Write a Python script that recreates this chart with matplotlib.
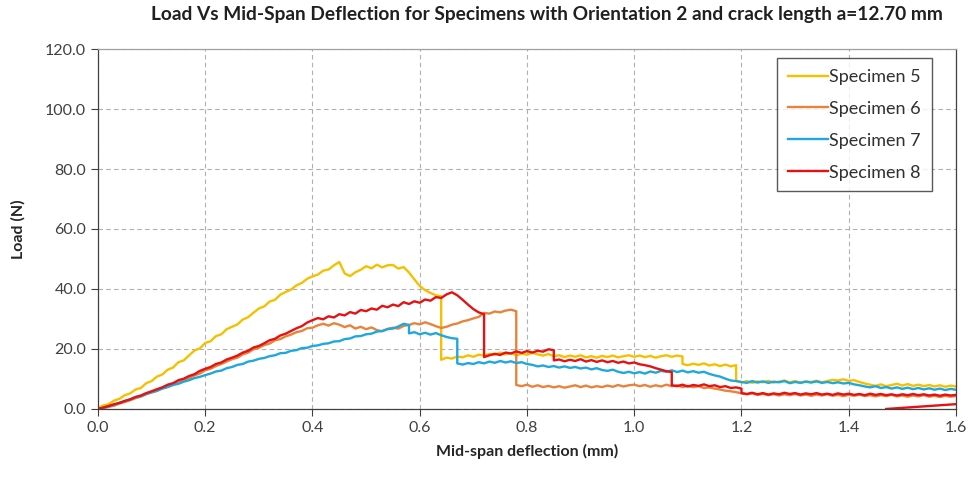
import matplotlib
matplotlib.use("Agg")
import matplotlib.pyplot as plt

plt.rcParams['font.family'] = ['Lato', 'DejaVu Sans']

# Mid-span load readings (N), sampled every 0.01 mm of deflection.
# A tuple marks a sudden load drop at that deflection: (before, after).
deflection_step = 0.01

specimen_5 = [
    0.3, 1.2, 1.6, 2.8, 3.4, 4.6, 5.2, 6.5, 7.0, 8.6,
    9.3, 10.8, 11.5, 13.1, 13.8, 15.6, 16.2, 17.9, 19.5, 20.2,
    22.0, 22.6, 24.3, 24.9, 26.6, 27.4, 28.2, 29.8, 30.6, 32.1,
    33.5, 34.2, 35.8, 36.4, 38.1, 39.0, 39.8, 41.2, 42.0, 43.4,
    44.2, 44.8, 46.1, 46.5, 47.9, 49.0, 45.2, 44.3, 45.6, 46.4,
    47.6, 46.9, 48.1, 47.2, 47.9, 48.0, 46.8, 47.3, 45.5, 43.2,
    41.0, 39.6, 38.7, 37.9, (37.6, 16.4), 17.1, 16.8, 17.5, 17.2, 17.9,
    17.4, 18.1, 17.8, 18.4, 18.0, 18.8, 18.2, 18.6, 17.9, 18.4,
    18.1, 18.7, 18.2, 17.8, 18.3, 17.6, 17.9, 17.3, 17.8, 17.4,
    17.9, 17.2, 17.6, 17.1, 17.7, 17.3, 17.8, 17.2, 17.6, 17.9,
    17.4, 17.8, 17.3, 17.7, 17.1, 17.6, 17.9, 17.4, 17.8, (17.5, 15.0),
    14.6, 15.1, 14.7, 15.2, 14.5, 14.9, 14.3, 14.8, 14.2, (14.6, 9.4),
    8.8, 9.3, 8.7, 9.2, 8.9, 9.4, 8.8, 9.1, 9.5, 8.9,
    9.3, 8.8, 9.2, 9.0, 9.4, 8.9, 9.3, 9.7, 9.5, 9.9,
    9.4, 9.6, 9.0, 8.5, 8.1, 7.7, 8.2, 7.6, 8.0, 8.4,
    7.8, 8.3, 7.7, 8.1, 7.6, 8.0, 7.5, 7.9, 7.4, 7.8,
    7.5,
]

specimen_6 = [
    0.0, 0.3, 0.7, 1.1, 1.8, 2.3, 2.9, 3.6, 4.1, 4.9,
    5.5, 6.0, 6.9, 7.4, 8.3, 8.8, 9.7, 10.3, 11.2, 11.8,
    12.9, 13.4, 14.3, 15.0, 15.8, 16.6, 17.1, 18.2, 18.8, 19.9,
    20.4, 21.3, 21.8, 22.9, 23.3, 24.2, 24.8, 25.6, 26.0, 26.9,
    27.1, 27.9, 28.4, 27.8, 28.6, 28.1, 27.3, 27.9, 26.8, 27.4,
    26.6, 27.2, 26.3, 25.9, 26.7, 27.1, 26.8, 27.7, 28.0, 28.6,
    28.2, 28.9, 28.3, 27.6, 27.0, 27.4, 28.1, 28.5, 29.2, 29.6,
    30.2, 30.7, 32.0, 31.8, 32.5, 32.2, 32.8, 33.1, (32.6, 8.0), 7.6,
    8.1, 7.4, 7.9, 7.3, 7.7, 7.2, 7.6, 7.1, 7.5, 7.9,
    7.3, 7.8, 7.2, 7.6, 7.3, 7.8, 7.4, 8.0, 7.5, 7.9,
    8.1, 7.6, 8.0, 7.4, 7.9, 7.5, 8.1, 7.6, 7.9, 7.3,
    7.7, 7.3, 7.6, 7.0, 7.2, 6.8, 6.5, 6.1, 5.9, 5.6,
    5.2, 4.9, 5.2, 4.7, 5.0, 4.6, 4.9, 4.5, 4.9, 4.6,
    5.0, 4.5, 4.8, 4.4, 4.8, 4.5, 4.9, 4.4, 4.7, 4.3,
    4.7, 4.4, 4.8, 4.3, 4.6, 4.2, 4.6, 4.3, 4.7, 4.2,
    4.5, 4.1, 4.5, 4.2, 4.6, 4.1, 4.4, 4.0, 4.4, 4.1,
    4.3,
]

specimen_7 = [
    0.0, 0.4, 0.9, 1.4, 2.1, 2.6, 3.2, 3.9, 4.3, 5.0,
    5.6, 6.1, 6.8, 7.3, 8.0, 8.4, 9.1, 9.6, 10.3, 10.7,
    11.3, 11.8, 12.5, 12.8, 13.6, 14.0, 14.7, 15.0, 15.8, 16.1,
    16.7, 17.0, 17.6, 17.9, 18.6, 18.7, 19.4, 19.6, 20.3, 20.4,
    21.0, 21.2, 21.7, 21.9, 22.5, 22.6, 23.3, 23.5, 24.2, 24.3,
    24.9, 25.1, 25.8, 26.0, 26.6, 26.8, 27.5, 28.4, (28.0, 25.2), 25.6,
    24.9, 25.4, 24.8, 25.3, 24.6, 24.0, 23.6, (23.4, 15.2), 14.8, 15.3,
    15.0, 15.6, 15.2, 15.8, 15.4, 16.0, 15.5, 15.9, 15.3, 15.6,
    15.0, 14.7, 14.2, 14.5, 14.0, 14.3, 13.8, 14.2, 13.7, 14.0,
    13.5, 13.8, 13.2, 13.6, 13.0, 12.7, 13.1, 12.4, 12.0, 12.4,
    11.9, 12.3, 11.8, 12.5, 12.1, 12.7, 12.4, 12.9, 12.3, 12.8,
    12.2, 12.6, 12.1, 12.4, 11.7, 11.2, 10.8, 10.1, 9.5, 9.3,
    9.0, 8.7, 9.3, 8.8, 9.2, 8.7, 9.1, 8.9, 9.3, 8.6,
    9.0, 8.7, 9.1, 8.8, 9.2, 8.7, 9.0, 8.6, 8.9, 8.5,
    8.7, 8.2, 7.9, 7.5, 7.2, 7.6, 7.0, 7.3, 6.8, 7.2,
    6.7, 7.1, 6.6, 7.0, 6.5, 6.9, 6.4, 6.8, 6.3, 6.7,
    6.4,
]

specimen_8 = [
    0.0, 0.5, 1.0, 1.6, 2.0, 2.7, 3.2, 4.0, 4.5, 5.3,
    5.9, 6.6, 7.2, 8.1, 8.6, 9.6, 10.1, 11.0, 11.6, 12.7,
    13.4, 14.0, 15.0, 15.5, 16.5, 17.1, 17.8, 18.8, 19.4, 20.5,
    21.0, 21.9, 22.9, 23.4, 24.5, 25.1, 26.0, 26.9, 27.6, 28.8,
    29.6, 30.3, 29.9, 30.9, 30.5, 31.6, 31.2, 32.3, 31.8, 33.0,
    32.6, 33.5, 33.1, 34.4, 33.9, 34.8, 34.3, 35.6, 35.0, 35.9,
    35.4, 36.5, 36.1, 37.3, 37.0, 38.2, 38.9, 37.9, 36.4, 34.8,
    33.3, 32.2, (31.6, 17.3), 17.9, 18.4, 18.0, 18.8, 18.5, 19.2, 18.7,
    19.3, 18.8, 19.4, 19.1, 19.9, (19.6, 16.2), 16.5, 15.9, 16.4, 16.0,
    16.6, 15.8, 16.3, 15.7, 16.2, 15.6, 16.0, 15.4, 15.8, 15.2,
    15.5, 14.9, 14.6, 14.2, 13.6, 13.1, 12.6, (12.3, 7.9), 7.6, 8.1,
    7.5, 8.0, 7.7, 8.2, 7.6, 7.9, 7.3, 7.6, 7.0, 7.2,
    (6.8, 5.3), 5.0, 5.4, 4.9, 5.3, 4.8, 5.2, 4.9, 5.4, 5.0,
    5.3, 4.8, 5.2, 4.9, 5.3, 4.8, 5.1, 4.7, 5.2, 4.8,
    5.1, 4.7, 5.0, 4.6, 5.1, 4.7, 5.0, 4.6, 4.9, 4.5,
    4.9, 4.6, 5.0, 4.6, 4.9, 4.5, 4.8, 4.4, 4.8, 4.5,
    4.7,
]
# Specimen 8 record continues past the axis limit and ends with a return to zero load.
specimen_8_tail_x = [1.85, 1.47]
specimen_8_tail_y = [4.7, 0.0]

labels = ["Specimen 5", "Specimen 6", "Specimen 7", "Specimen 8"]
colors = ["#F4C000", "#E9823A", "#1FA8DC", "#E41212"]

x_ticks = [0.0, 0.2, 0.4, 0.6, 0.8, 1.0, 1.2, 1.4, 1.6]
y_ticks = [0.0, 20.0, 40.0, 60.0, 80.0, 100.0, 120.0]


def expand(values, step):
    xs, ys = [], []
    for i, v in enumerate(values):
        x = round(i * step, 4)
        if isinstance(v, tuple):
            xs.extend([x, x])
            ys.extend(v)
        else:
            xs.append(x)
            ys.append(v)
    return xs, ys


series = [expand(s, deflection_step) for s in (specimen_5, specimen_6, specimen_7, specimen_8)]
series[3][0].extend(specimen_8_tail_x)
series[3][1].extend(specimen_8_tail_y)

fig = plt.figure(figsize=(9.74, 4.82), dpi=100)
ax = fig.add_axes([0.1006, 0.1515, 0.8809, 0.7468])

for (xs, ys), lab, col in zip(series, labels, colors):
    ax.plot(xs, ys, color=col, lw=1.7, label=lab, solid_joinstyle='round')

ax.set_xlim(0, 1.6)
ax.set_ylim(0, 120)
ax.set_xticks(x_ticks)
ax.set_yticks(y_ticks)
ax.set_xticklabels([f"{v:.1f}" for v in x_ticks])
ax.set_yticklabels([f"{v:.1f}" for v in y_ticks])
ax.tick_params(axis='both', labelsize=11.5, colors='#404040', length=5, width=0.8,
               direction='out')
ax.tick_params(axis='x', pad=4)
ax.grid(True, color='#B0B0B0', linestyle=(0, (4, 3)), linewidth=0.8)
ax.set_axisbelow(True)
for side in ['left', 'bottom', 'right']:
    ax.spines[side].set_color('#404040')
    ax.spines[side].set_linewidth(0.9)
ax.spines['top'].set_color('#A0A0A0')
ax.spines['top'].set_linewidth(0.9)

ax.set_xlabel("Mid-span deflection (mm)", fontsize=11.5, fontweight='bold',
              color='#262626', labelpad=6)
ax.set_ylabel("Load (N)", fontsize=11.5, fontweight='bold', color='#262626', labelpad=14)
fig.suptitle("Load Vs Mid-Span Deflection for Specimens with Orientation 2 and crack length a=12.70 mm",
             x=0.5616, y=0.987, fontsize=13.8, fontweight='bold', color='#202020')

leg = ax.legend(loc='upper right', bbox_to_anchor=(0.972, 0.975), fontsize=13,
                frameon=True, fancybox=False, edgecolor='#303030', handlelength=2.2,
                handletextpad=0.1, labelspacing=0.88, borderpad=0.6, borderaxespad=0)
leg.get_frame().set_linewidth(1.0)
for t in leg.get_texts():
    t.set_color('#303030')

fig.savefig("out.png", dpi=100)
